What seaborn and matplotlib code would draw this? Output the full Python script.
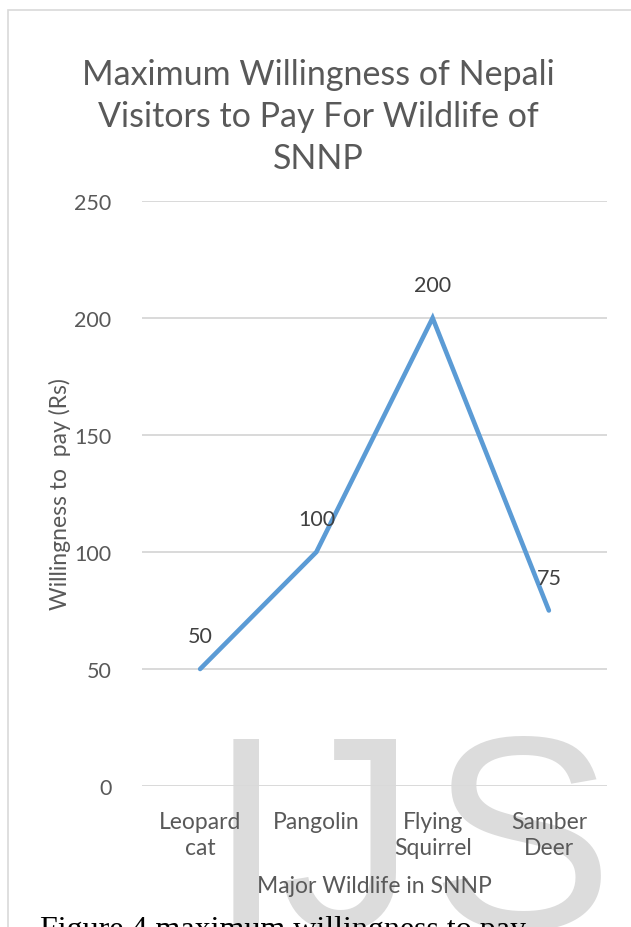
import matplotlib
matplotlib.use("Agg")
import matplotlib.pyplot as plt
import seaborn as sns
import pandas as pd
from matplotlib.patches import Rectangle

# Data
animals = ["Leopard\ncat", "Pangolin", "Flying\nSquirrel", "Samber\nDeer"]
wtp = [50, 100, 200, 75]
y_ticks = [0, 50, 100, 150, 200, 250]

title = "Maximum Willingness of Nepali\nVisitors to Pay For Wildlife of\nSNNP"
x_title = "Major Wildlife in SNNP"
y_title = "Willingness to  pay (Rs)"
caption = "Figure 4 maximum willingness to pay"

TEXT = "#595959"
LINE = "#5B9BD5"
GRID = "#D9D9D9"

sns.set_theme(style="white")
plt.rcParams["font.family"] = ["Lato", "DejaVu Sans"]

W, H, DPI = 631, 928, 100
fig = plt.figure(figsize=(W / DPI, H / DPI), dpi=DPI)
fig.patch.set_facecolor("white")

def fx(px):
    return px / W

def fy(py):
    return 1 - py / H

ax = fig.add_axes([fx(142), fy(787), fx(607) - fx(142), fy(202) - fy(787)])
ax.set_facecolor("none")

df = pd.DataFrame({"animal": animals, "wtp": wtp})
sns.lineplot(data=df, x="animal", y="wtp", ax=ax, color=LINE, linewidth=3.3,
             sort=False, solid_capstyle="round", solid_joinstyle="miter", zorder=3)

ax.set_xlim(-0.5, len(animals) - 0.5)
ax.set_ylim(0, 250)
ax.set_yticks(y_ticks)
ax.yaxis.grid(True, color=GRID, linewidth=1.4)
ax.xaxis.grid(False)
for s in ax.spines.values():
    s.set_visible(False)
ax.tick_params(axis="both", length=0, labelcolor=TEXT)
ax.tick_params(axis="y", pad=22, labelsize=15.5)
ax.tick_params(axis="x", pad=18, labelsize=16.5)
for lab in ax.get_xticklabels():
    lab.set_linespacing(1.3)
ax.set_xlabel(x_title, fontsize=16.5, color=TEXT, labelpad=12)
ax.set_ylabel(y_title, fontsize=16.5, color=TEXT)
ax.yaxis.set_label_coords((71 - 142) / 465, 0.5)

for i, v in enumerate(wtp):
    ax.annotate(f"{v}", (i, v), xytext=(0, 23.5), textcoords="offset points",
                ha="center", va="center", fontsize=15.5, color="#404040", zorder=4)

# chart title
fig.text(fx(318), fy(169), title, ha="center", va="baseline", fontsize=24.5,
         color=TEXT, linespacing=1.38)

# chart frame
fig.patches.append(Rectangle((fx(8), fy(940)), fx(700), fy(11) - fy(940),
                             transform=fig.transFigure, fill=False,
                             edgecolor=GRID, linewidth=1.2, zorder=-2))

# watermark
for ch, cx in zip("IJS", [246, 347, 521]):
    fig.text(fx(cx), fy(928), ch, ha="center", va="baseline",
             fontsize=198, color="#DCDCDC", family="Liberation Sans", zorder=-1)

# caption below the chart
fig.text(fx(40), fy(938), caption, ha="left", va="baseline", fontsize=23,
         color="black", family="Liberation Serif")

fig.savefig("out.png", dpi=DPI)
